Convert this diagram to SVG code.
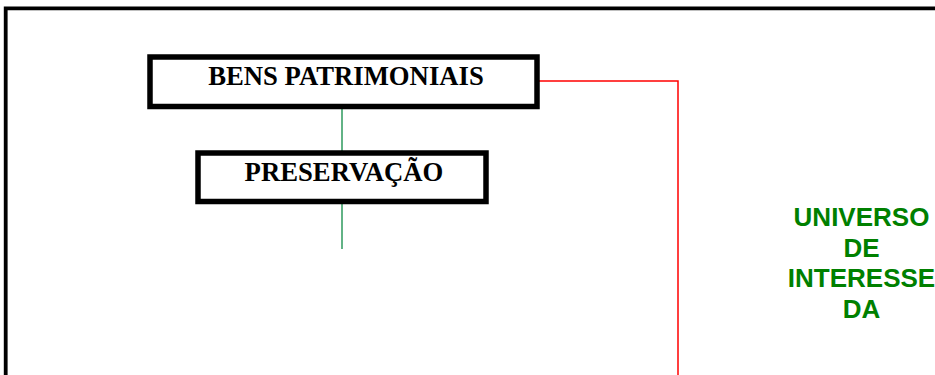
<svg xmlns="http://www.w3.org/2000/svg" width="935" height="375" viewBox="0 0 935 375">
<style>
.box{fill:#fff;stroke:#000;stroke-width:5.5}
.lbl{font-family:"Liberation Serif","Times New Roman",serif;font-weight:bold;font-size:26.7px;fill:#000;text-anchor:middle}
.uni{font-family:"Liberation Sans",Arial,sans-serif;font-weight:bold;font-size:26px;fill:#008000;text-anchor:middle}
.g{stroke:#2e9a5e;stroke-width:1.5;fill:none}
.r{stroke:#ff0000;stroke-width:1.5;fill:none}
</style>
<rect width="935" height="375" fill="#fff"/>
<path d="M5.7 380 V8.3 H945" fill="none" stroke="#000" stroke-width="3.8"/>
<g id="connectors">
<line class="g" x1="342" y1="106" x2="342" y2="153"/>
<line class="g" x1="342" y1="201" x2="342" y2="249"/>
<polyline class="r" points="533,81 678,81 678,376"/>
</g>
<g id="bens-patrimoniais">
<rect class="box" x="150" y="57" width="387" height="49.5"/>
<text class="lbl" x="346" y="85">BENS PATRIMONIAIS</text>
</g>
<g id="preservacao">
<rect class="box" x="198" y="153" width="288" height="48.5"/>
<text class="lbl" x="344" y="181">PRESERVAÇÃO</text>
</g>
<g id="universo">
<text class="uni" x="861.5" y="226">UNIVERSO</text>
<text class="uni" x="861.5" y="256.7">DE</text>
<text class="uni" x="861.5" y="287.4">INTERESSE</text>
<text class="uni" x="861.5" y="318">DA</text>
</g>
</svg>
